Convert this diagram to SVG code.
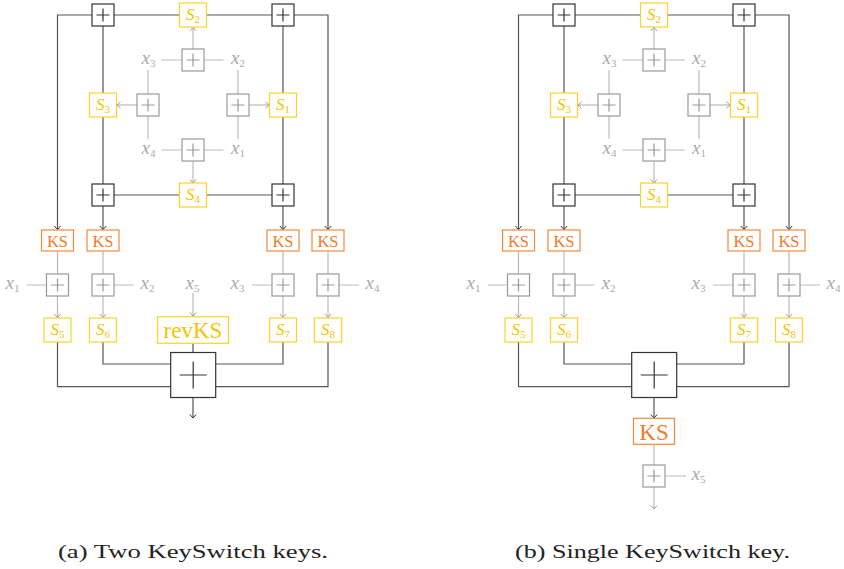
<svg xmlns="http://www.w3.org/2000/svg" xmlns:xlink="http://www.w3.org/1999/xlink" width="844" height="569" viewBox="0 0 844 569">
<style>
.dk{fill:none;stroke:#555;stroke-width:1.2}
.gl{fill:none;stroke:#bbb;stroke-width:1.2}
.bd{fill:#fff;stroke:#333;stroke-width:1.2}
.bdp{fill:none;stroke:#333;stroke-width:1.2}
.bg{fill:#fff;stroke:#999;stroke-width:1.2}
.bgp{fill:none;stroke:#999;stroke-width:1.2}
.by{fill:#fff;stroke:#fcd22a;stroke-width:1.2}
.bo{fill:#fff;stroke:#f08a3c;stroke-width:1.2}
.ty{fill:#f5c400;font-family:"Liberation Serif","Times New Roman",serif;font-size:17px;font-style:italic}
.tg{fill:#aaa;font-family:"Liberation Serif","Times New Roman",serif;font-size:19px;font-style:italic}
.sub{font-size:11px;font-style:normal}
.to{fill:#ee7d2b;font-family:"Liberation Serif","Times New Roman",serif;font-size:16.5px}
.cap{fill:#222;font-family:"Liberation Serif","Times New Roman",serif;font-size:19px}
</style>
<defs>
<marker id="ad" viewBox="-5 -5 10 10" markerWidth="10" markerHeight="10" markerUnits="userSpaceOnUse" orient="auto"><path d="M-3.5,-3.2 L0,0 L-3.5,3.2" fill="none" stroke="#333" stroke-width="1"/></marker>
<marker id="ag" viewBox="-5 -5 10 10" markerWidth="10" markerHeight="10" markerUnits="userSpaceOnUse" orient="auto"><path d="M-3.5,-3.2 L0,0 L-3.5,3.2" fill="none" stroke="#999" stroke-width="1"/></marker>
<g id="pd"><rect class="bd" x="-11" y="-11" width="22" height="22"/><path class="bdp" d="M-6.5 0H6.5M0 -6.5V6.5"/></g>
<g id="pg"><rect class="bg" x="-11" y="-11" width="22" height="22"/><path class="bgp" d="M-6.5 0H6.5M0 -6.5V6.5"/></g>
<rect id="sy" class="by" x="-13.5" y="-12" width="27" height="24"/>
<rect id="ks" class="bo" x="-16" y="-10.5" width="32" height="21"/>
<g id="big"><rect class="bd" x="-22.5" y="-22.5" width="45" height="45"/><path class="bdp" d="M-13.5 0H13.5M0 -13.5V13.5"/></g>
</defs>

<!-- ============ (a) ============ -->
<g id="a-connectors">
<path class="dk" d="M179.5 15H57.5V229.5" marker-end="url(#ad)"/>
<path class="dk" d="M206.5 15H328V229.5" marker-end="url(#ad)"/>
<path class="dk" d="M103 26V229.5" marker-end="url(#ad)"/>
<path class="dk" d="M283 26V229.5" marker-end="url(#ad)"/>
<path class="dk" d="M114 195H272"/>
<path class="gl" d="M193 49V27.5" marker-end="url(#ag)"/>
<path class="gl" d="M161.5 60H182M204 60H223.5"/>
<path class="gl" d="M148 70V94M148 116V139"/>
<path class="gl" d="M137 105H117" marker-end="url(#ag)"/>
<path class="gl" d="M238 70V94M238 116V139"/>
<path class="gl" d="M249 105H269" marker-end="url(#ag)"/>
<path class="gl" d="M161.5 150H182M204 150H223.5"/>
<path class="gl" d="M193 161V183" marker-end="url(#ag)"/>
<path class="gl" d="M57.5 250.5V274M103 250.5V274M283 250.5V274M328 250.5V274"/>
<path class="gl" d="M57.5 296V317.5" marker-end="url(#ag)"/>
<path class="gl" d="M103 296V317.5" marker-end="url(#ag)"/>
<path class="gl" d="M283 296V317.5" marker-end="url(#ag)"/>
<path class="gl" d="M328 296V317.5" marker-end="url(#ag)"/>
<path class="gl" d="M27 285H46.5M114 285H133.5M252 285H272M339 285H359"/>
<path class="gl" d="M193 293V316" marker-end="url(#ag)"/>
<path class="dk" d="M57.5 342V386.7H170.7M103 342V364H170.7M283 342V364H215.7M328 342V386.7H215.7M193 343.3V352.3"/>
<path class="dk" d="M193 397.7V418" marker-end="url(#ad)"/>
</g>

<g id="a-p1"><use xlink:href="#pd" x="103" y="15"/></g>
<g id="a-p2"><use xlink:href="#pd" x="283" y="15"/></g>
<g id="a-p3"><use xlink:href="#pd" x="103" y="195"/></g>
<g id="a-p4"><use xlink:href="#pd" x="283" y="195"/></g>
<g id="a-S2"><use xlink:href="#sy" x="193" y="15"/><text class="ty" x="193" y="20" text-anchor="middle">S<tspan class="sub" dy="3">2</tspan></text></g>
<g id="a-S3"><use xlink:href="#sy" x="103" y="105"/><text class="ty" x="103" y="110" text-anchor="middle">S<tspan class="sub" dy="3">3</tspan></text></g>
<g id="a-S1"><use xlink:href="#sy" x="283" y="105"/><text class="ty" x="283" y="110" text-anchor="middle">S<tspan class="sub" dy="3">1</tspan></text></g>
<g id="a-S4"><use xlink:href="#sy" x="193" y="195"/><text class="ty" x="193" y="200" text-anchor="middle">S<tspan class="sub" dy="3">4</tspan></text></g>
<g id="a-g1"><use xlink:href="#pg" x="193" y="60"/></g>
<g id="a-g2"><use xlink:href="#pg" x="148" y="105"/></g>
<g id="a-g3"><use xlink:href="#pg" x="238" y="105"/></g>
<g id="a-g4"><use xlink:href="#pg" x="193" y="150"/></g>
<g id="a-lx3"><text class="tg" x="148.5" y="64" text-anchor="middle">x<tspan class="sub" dy="3">3</tspan></text></g>
<g id="a-lx2"><text class="tg" x="238" y="64" text-anchor="middle">x<tspan class="sub" dy="3">2</tspan></text></g>
<g id="a-lx4"><text class="tg" x="148.5" y="154" text-anchor="middle">x<tspan class="sub" dy="3">4</tspan></text></g>
<g id="a-lx1"><text class="tg" x="238" y="154" text-anchor="middle">x<tspan class="sub" dy="3">1</tspan></text></g>

<g id="a-ks1"><use xlink:href="#ks" x="57.5" y="240.5"/><text class="to" x="57.5" y="246.5" text-anchor="middle">KS</text></g>
<g id="a-ks2"><use xlink:href="#ks" x="103" y="240.5"/><text class="to" x="103" y="246.5" text-anchor="middle">KS</text></g>
<g id="a-ks3"><use xlink:href="#ks" x="283" y="240.5"/><text class="to" x="283" y="246.5" text-anchor="middle">KS</text></g>
<g id="a-ks4"><use xlink:href="#ks" x="328" y="240.5"/><text class="to" x="328" y="246.5" text-anchor="middle">KS</text></g>
<g id="a-g5"><use xlink:href="#pg" x="57.5" y="285"/></g>
<g id="a-g6"><use xlink:href="#pg" x="103" y="285"/></g>
<g id="a-g7"><use xlink:href="#pg" x="283" y="285"/></g>
<g id="a-g8"><use xlink:href="#pg" x="328" y="285"/></g>
<g id="a-bx1"><text class="tg" x="12.5" y="289" text-anchor="middle">x<tspan class="sub" dy="3">1</tspan></text></g>
<g id="a-bx2"><text class="tg" x="147.5" y="289" text-anchor="middle">x<tspan class="sub" dy="3">2</tspan></text></g>
<g id="a-bx5"><text class="tg" x="192.5" y="289" text-anchor="middle">x<tspan class="sub" dy="3">5</tspan></text></g>
<g id="a-bx3"><text class="tg" x="237.5" y="289" text-anchor="middle">x<tspan class="sub" dy="3">3</tspan></text></g>
<g id="a-bx4"><text class="tg" x="372.5" y="289" text-anchor="middle">x<tspan class="sub" dy="3">4</tspan></text></g>
<g id="a-S5"><use xlink:href="#sy" x="57.5" y="330"/><text class="ty" x="57.5" y="335" text-anchor="middle">S<tspan class="sub" dy="3">5</tspan></text></g>
<g id="a-S6"><use xlink:href="#sy" x="103" y="330"/><text class="ty" x="103" y="335" text-anchor="middle">S<tspan class="sub" dy="3">6</tspan></text></g>
<g id="a-S7"><use xlink:href="#sy" x="283" y="330"/><text class="ty" x="283" y="335" text-anchor="middle">S<tspan class="sub" dy="3">7</tspan></text></g>
<g id="a-S8"><use xlink:href="#sy" x="328" y="330"/><text class="ty" x="328" y="335" text-anchor="middle">S<tspan class="sub" dy="3">8</tspan></text></g>
<g id="a-revks"><rect class="by" x="157.5" y="316.7" width="71" height="26.6"/><text class="ty" x="193" y="338" text-anchor="middle" style="font-style:normal;font-size:23px">revKS</text></g>
<g id="a-big"><use xlink:href="#big" x="193.2" y="375"/></g>

<!-- ============ (b) ============ -->
<g id="b-connectors">
<path class="dk" d="M640.5 15H518.5V229.5" marker-end="url(#ad)"/>
<path class="dk" d="M667.5 15H789V229.5" marker-end="url(#ad)"/>
<path class="dk" d="M564 26V229.5" marker-end="url(#ad)"/>
<path class="dk" d="M744 26V229.5" marker-end="url(#ad)"/>
<path class="dk" d="M575 195H733"/>
<path class="gl" d="M654 49V27.5" marker-end="url(#ag)"/>
<path class="gl" d="M622.5 60H643M665 60H684.5"/>
<path class="gl" d="M609 70V94M609 116V139"/>
<path class="gl" d="M598 105H578" marker-end="url(#ag)"/>
<path class="gl" d="M699 70V94M699 116V139"/>
<path class="gl" d="M710 105H730" marker-end="url(#ag)"/>
<path class="gl" d="M622.5 150H643M665 150H684.5"/>
<path class="gl" d="M654 161V183" marker-end="url(#ag)"/>
<path class="gl" d="M518.5 250.5V274M564 250.5V274M744 250.5V274M789 250.5V274"/>
<path class="gl" d="M518.5 296V317.5" marker-end="url(#ag)"/>
<path class="gl" d="M564 296V317.5" marker-end="url(#ag)"/>
<path class="gl" d="M744 296V317.5" marker-end="url(#ag)"/>
<path class="gl" d="M789 296V317.5" marker-end="url(#ag)"/>
<path class="gl" d="M488 285H507.5M575 285H594.5M713 285H733M800 285H820"/>
<path class="dk" d="M518.5 342V386.7H631.7M564 342V364H631.7M744 342V364H676.7M789 342V386.7H676.7"/>
<path class="dk" d="M654 397.7V418" marker-end="url(#ad)"/>
<path class="gl" d="M654 444.3V465M665 476H686"/>
<path class="gl" d="M654 487V509" marker-end="url(#ag)"/>
</g>

<g id="b-p1"><use xlink:href="#pd" x="564" y="15"/></g>
<g id="b-p2"><use xlink:href="#pd" x="744" y="15"/></g>
<g id="b-p3"><use xlink:href="#pd" x="564" y="195"/></g>
<g id="b-p4"><use xlink:href="#pd" x="744" y="195"/></g>
<g id="b-S2"><use xlink:href="#sy" x="654" y="15"/><text class="ty" x="654" y="20" text-anchor="middle">S<tspan class="sub" dy="3">2</tspan></text></g>
<g id="b-S3"><use xlink:href="#sy" x="564" y="105"/><text class="ty" x="564" y="110" text-anchor="middle">S<tspan class="sub" dy="3">3</tspan></text></g>
<g id="b-S1"><use xlink:href="#sy" x="744" y="105"/><text class="ty" x="744" y="110" text-anchor="middle">S<tspan class="sub" dy="3">1</tspan></text></g>
<g id="b-S4"><use xlink:href="#sy" x="654" y="195"/><text class="ty" x="654" y="200" text-anchor="middle">S<tspan class="sub" dy="3">4</tspan></text></g>
<g id="b-g1"><use xlink:href="#pg" x="654" y="60"/></g>
<g id="b-g2"><use xlink:href="#pg" x="609" y="105"/></g>
<g id="b-g3"><use xlink:href="#pg" x="699" y="105"/></g>
<g id="b-g4"><use xlink:href="#pg" x="654" y="150"/></g>
<g id="b-lx3"><text class="tg" x="609.5" y="64" text-anchor="middle">x<tspan class="sub" dy="3">3</tspan></text></g>
<g id="b-lx2"><text class="tg" x="699" y="64" text-anchor="middle">x<tspan class="sub" dy="3">2</tspan></text></g>
<g id="b-lx4"><text class="tg" x="609.5" y="154" text-anchor="middle">x<tspan class="sub" dy="3">4</tspan></text></g>
<g id="b-lx1"><text class="tg" x="699" y="154" text-anchor="middle">x<tspan class="sub" dy="3">1</tspan></text></g>

<g id="b-ks1"><use xlink:href="#ks" x="518.5" y="240.5"/><text class="to" x="518.5" y="246.5" text-anchor="middle">KS</text></g>
<g id="b-ks2"><use xlink:href="#ks" x="564" y="240.5"/><text class="to" x="564" y="246.5" text-anchor="middle">KS</text></g>
<g id="b-ks3"><use xlink:href="#ks" x="744" y="240.5"/><text class="to" x="744" y="246.5" text-anchor="middle">KS</text></g>
<g id="b-ks4"><use xlink:href="#ks" x="789" y="240.5"/><text class="to" x="789" y="246.5" text-anchor="middle">KS</text></g>
<g id="b-g5"><use xlink:href="#pg" x="518.5" y="285"/></g>
<g id="b-g6"><use xlink:href="#pg" x="564" y="285"/></g>
<g id="b-g7"><use xlink:href="#pg" x="744" y="285"/></g>
<g id="b-g8"><use xlink:href="#pg" x="789" y="285"/></g>
<g id="b-bx1"><text class="tg" x="473.5" y="289" text-anchor="middle">x<tspan class="sub" dy="3">1</tspan></text></g>
<g id="b-bx2"><text class="tg" x="608.5" y="289" text-anchor="middle">x<tspan class="sub" dy="3">2</tspan></text></g>
<g id="b-bx3"><text class="tg" x="698.5" y="289" text-anchor="middle">x<tspan class="sub" dy="3">3</tspan></text></g>
<g id="b-bx4"><text class="tg" x="833.5" y="289" text-anchor="middle">x<tspan class="sub" dy="3">4</tspan></text></g>
<g id="b-S5"><use xlink:href="#sy" x="518.5" y="330"/><text class="ty" x="518.5" y="335" text-anchor="middle">S<tspan class="sub" dy="3">5</tspan></text></g>
<g id="b-S6"><use xlink:href="#sy" x="564" y="330"/><text class="ty" x="564" y="335" text-anchor="middle">S<tspan class="sub" dy="3">6</tspan></text></g>
<g id="b-S7"><use xlink:href="#sy" x="744" y="330"/><text class="ty" x="744" y="335" text-anchor="middle">S<tspan class="sub" dy="3">7</tspan></text></g>
<g id="b-S8"><use xlink:href="#sy" x="789" y="330"/><text class="ty" x="789" y="335" text-anchor="middle">S<tspan class="sub" dy="3">8</tspan></text></g>
<g id="b-big"><use xlink:href="#big" x="654.2" y="375"/></g>
<g id="b-ksout"><rect class="bo" x="633.5" y="418.3" width="41" height="26"/><text class="to" x="654" y="439.5" text-anchor="middle" style="font-size:23px">KS</text></g>
<g id="b-g9"><use xlink:href="#pg" x="654" y="476"/></g>
<g id="b-x5"><text class="tg" x="698.5" y="480" text-anchor="middle">x<tspan class="sub" dy="3">5</tspan></text></g>

<text class="cap" x="193" y="558" text-anchor="middle" textLength="270" lengthAdjust="spacingAndGlyphs">(a) Two KeySwitch keys.</text>
<text class="cap" x="652.5" y="558" text-anchor="middle" textLength="275" lengthAdjust="spacingAndGlyphs">(b) Single KeySwitch key.</text>
</svg>
